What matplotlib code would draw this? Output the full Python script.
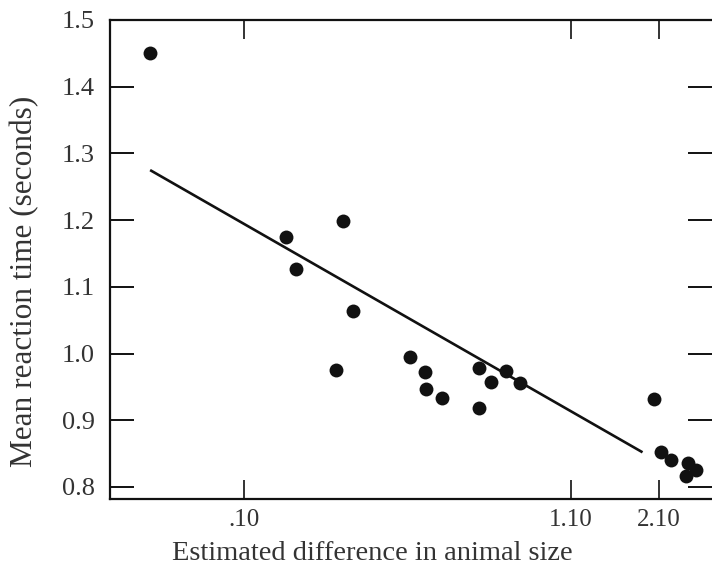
import numpy as np
import matplotlib
matplotlib.use("Agg")
import matplotlib.pyplot as plt

# Data (x on a log scale)
size_diff = [0.0502, 0.136, 0.207, 0.146, 0.222, 0.197, 0.339, 0.377, 0.380,
             0.427, 0.562, 0.562, 0.611, 0.682, 0.757,
             2.02, 2.14, 2.29, 2.60, 2.75, 2.56]
reaction_time = [1.450, 1.175, 1.198, 1.127, 1.064, 0.975, 0.995, 0.972, 0.947,
                 0.933, 0.979, 0.919, 0.957, 0.974, 0.956,
                 0.932, 0.853, 0.841, 0.836, 0.826, 0.816]

# Regression line: y = intercept + slope * log10(x)
fit_intercept = 0.9247
fit_slope = -0.2696
fit_x_range = [0.0502, 1.862]

x_ticks = [0.10, 1.10, 2.10]
x_tick_labels = [".10", "1.10", "2.10"]
y_ticks = [0.8, 0.9, 1.0, 1.1, 1.2, 1.3, 1.4, 1.5]
y_tick_labels = ["0.8", "0.9", "1.0", "1.1", "1.2", "1.3", "1.4", "1.5"]

plt.rcParams['font.family'] = ['Liberation Serif', 'DejaVu Serif']
ink = '#111111'
txt = '#333333'

fig = plt.figure(figsize=(7.12, 5.71), dpi=100)
ax = fig.add_axes([110/712, 72/571, 602/712, 479/571])

ax.set_xscale('log')
ax.set_xlim(0.0374, 3.10)
ax.set_ylim(0.7819, 1.5)

lx = np.geomspace(fit_x_range[0], fit_x_range[1], 50)
ly = fit_intercept + fit_slope * np.log10(lx)
ax.plot(lx, ly, color=ink, lw=1.9, solid_capstyle='butt')

ax.plot(size_diff, reaction_time, 'o', color=ink, markersize=10, markeredgewidth=0)

ax.xaxis.set_minor_locator(matplotlib.ticker.NullLocator())
ax.set_xticks(x_ticks)
ax.set_xticklabels(x_tick_labels)
ax.set_yticks(y_ticks)
ax.set_yticklabels(y_tick_labels)

ax.tick_params(axis='x', which='major', direction='in', top=True, bottom=True,
               length=14, width=1.2, color=ink, labelsize=18, labelcolor=txt, pad=7)
ax.tick_params(axis='y', which='major', direction='in', left=True, right=True,
               length=17, width=1.4, color=ink, labelsize=19, labelcolor=txt, pad=11)

for s in ['left', 'bottom', 'top']:
    ax.spines[s].set_linewidth(1.6)
    ax.spines[s].set_color(ink)
ax.spines['right'].set_visible(False)

ax.set_xlabel('Estimated difference in animal size', fontsize=20.5, color=txt)
ax.set_ylabel('Mean reaction time (seconds)', fontsize=22.5, color=txt)
ax.xaxis.set_label_coords(0.435, -0.088)
ax.yaxis.set_label_coords(-0.118, 0.455)

fig.savefig('out.png', dpi=100)
